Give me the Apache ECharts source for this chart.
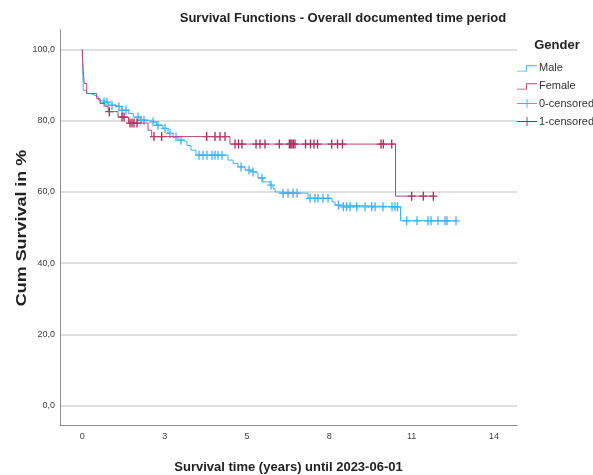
<!DOCTYPE html>
<html>
<head>
<meta charset="utf-8">
<script src="https://cdn.jsdelivr.net/npm/echarts@6/dist/echarts.min.js"></script>
<style>
  html, body { margin: 0; padding: 0; background: #ffffff; }
  #chart { width: 593px; height: 475px; }
</style>
</head>
<body>
<div id="chart"></div>
<script>
// Kaplan-Meier estimates (time in years, cumulative survival in %)
const maleEventTimes = [0.01, 0.02, 0.033, 0.146, 0.256, 0.422, 0.532, 0.698, 0.865, 1.087,
  1.310, 1.530, 1.696, 1.919, 2.251, 2.474, 2.684, 2.850, 3.016, 3.183, 3.349, 3.482, 3.615,
  3.781, 4.845, 5.012, 5.178, 5.411, 5.577, 5.743, 5.843, 6.010, 6.242, 6.342, 6.409, 6.475,
  7.506, 8.304, 8.404, 8.570, 10.582];
const maleEventSurv = [96, 92, 88.5, 87.6, 87.1, 86.7, 85.7, 85.2, 84.3, 83.9,
  82.9, 82.0, 81.0, 80.1, 79.6, 78.7, 77.8, 76.4, 75.4, 74.5, 74.0, 73.0, 71.7,
  70.3, 68.9, 68.0, 67.0, 66.1, 65.6, 65.3, 63.9, 62.8, 61.9, 61.0, 60.0, 59.6,
  58.2, 57.2, 56.3, 55.8, 51.9];
const maleCensorTimes = [0.722, 0.821, 0.988, 1.220, 1.320, 1.453, 1.852, 1.952, 2.052, 2.351,
  2.517, 2.750, 2.916, 3.116, 3.282, 3.881, 4.014, 4.147, 4.313, 4.413, 4.513, 4.646, 5.278,
  5.544, 5.677, 5.976, 6.276, 6.675, 6.841, 7.007, 7.140, 7.572, 7.738, 7.838, 8.004, 8.171,
  8.514, 8.680, 8.793, 8.903, 9.125, 9.402, 9.624, 9.734, 10.000, 10.299, 10.399, 10.482,
  10.788, 11.131, 11.496, 11.596, 11.829, 12.062, 12.128, 12.427];

const femaleEventTimes = [0.01, 0.03, 0.067, 0.146, 0.479, 0.589, 0.755, 0.865, 1.187, 1.536,
  2.185, 2.308, 4.912, 10.416];
const femaleEventSurv = [97, 94, 90.4, 87.6, 86.2, 84.8, 83.9, 82.5, 81.0, 79.3,
  77.3, 75.5, 73.4, 58.8];
const femaleCensorTimes = [0.898, 1.320, 1.387, 1.586, 1.653, 1.719, 1.819, 2.384, 2.640,
  4.137, 4.413, 4.580, 4.746, 5.079, 5.195, 5.311, 5.777, 5.910, 6.076, 6.551, 6.884, 6.930,
  6.973, 7.017, 7.073, 7.423, 7.589, 7.705, 7.822, 8.294, 8.487, 8.653, 9.933, 10.010, 10.290,
  10.954, 11.340, 11.673];

// Axis ticks: x ticks every 1000 days, labelled in whole years
const xTickDays = [0, 1000, 2000, 3000, 4000, 5000];
const xTickLabels = ['0', '3', '5', '8', '11', '14'];
const yTickValues = [0, 20, 40, 60, 80, 100];

const DAYS_PER_YEAR = 365.25;
const maleColor = '#3fb3f0';
const femaleLineColor = '#bf4470';
const femaleMarkColor = '#a3285a';
const FONT = '"Liberation Sans", Arial, sans-serif';

function survivalAt(times, surv, t) {
  let s = 100;
  for (let i = 0; i < times.length; i++) {
    if (times[i] <= t) s = surv[i]; else break;
  }
  return s;
}

function stepData(times, surv, censors) {
  const pts = [[0, 100]];
  times.forEach((t, i) => pts.push([t, surv[i]]));
  const last = Math.max(times[times.length - 1], censors[censors.length - 1]);
  pts.push([last, surv[surv.length - 1]]);
  return pts;
}

function censorData(times, surv, censors) {
  return censors.map(t => [t, survivalAt(times, surv, t)]);
}

const plusMark = 'path://M0,3.9 L8,3.9 L8,5.2 L0,5.2 Z M3.35,0 L4.65,0 L4.65,9 L3.35,9 Z';
const stepIcon = 'path://M0,0 L0.01,0 L0.01,0.01 Z M0,8 L10,8 L10,2 L22,2 L22,3 L11,3 L11,9 L0,9 Z';
const plusIcon = 'path://M0,4.5 L22,4.5 L22,5.5 L0,5.5 Z M10.5,0 L11.5,0 L11.5,10 L10.5,10 Z';

const chart = echarts.init(document.getElementById('chart'), null, { renderer: 'canvas' });

chart.setOption({
  animation: false,
  backgroundColor: '#ffffff',
  textStyle: { fontFamily: FONT },
  graphic: [
    {
      type: 'text', x: 343, y: 18,
      style: {
        text: 'Survival Functions - Overall documented time period',
        font: 'bold 13px ' + FONT, fill: '#222222',
        textAlign: 'center', textVerticalAlign: 'middle'
      }
    },
    {
      type: 'text', x: 557, y: 45,
      style: {
        text: 'Gender', font: 'bold 13px ' + FONT, fill: '#222222',
        textAlign: 'center', textVerticalAlign: 'middle'
      }
    },
    {
      // vertical axis title, drawn with a slightly elongated bold face
      type: 'text', x: 22, y: 228, rotation: Math.PI / 2, scaleX: 1.28,
      style: {
        text: 'Cum Survival in %', font: 'bold 14px ' + FONT, fill: '#222222',
        textAlign: 'center', textVerticalAlign: 'middle'
      }
    }
  ],
  legend: {
    orient: 'vertical',
    left: 517,
    top: 62,
    padding: 0,
    itemWidth: 20,
    itemHeight: 10,
    itemGap: 7,
    textStyle: { fontSize: 11, color: '#333333', fontFamily: FONT, padding: [0, 0, 0, -3] },
    data: [
      { name: 'Male', icon: stepIcon, itemStyle: { color: maleColor } },
      { name: 'Female', icon: stepIcon, itemStyle: { color: femaleLineColor } },
      { name: '0-censored', icon: plusIcon, itemStyle: { color: maleColor } },
      { name: '1-censored', icon: plusIcon, itemStyle: { color: femaleMarkColor } }
    ]
  },
  grid: { left: 60, right: 76, top: 30, bottom: 50, outerBoundsMode: 'none', containLabel: false },
  xAxis: {
    type: 'value',
    min: -0.742,
    max: 14.456,
    name: 'Survival time (years) until 2023-06-01',
    nameLocation: 'middle',
    nameGap: 36,
    nameTextStyle: { fontSize: 13, fontWeight: 'bold', color: '#222222', fontFamily: FONT },
    axisLine: { show: true, onZero: false, lineStyle: { color: '#8c8c8c', width: 1 } },
    axisTick: { show: false, customValues: xTickDays.map(d => d / DAYS_PER_YEAR) },
    splitLine: { show: false },
    axisLabel: {
      customValues: xTickDays.map(d => d / DAYS_PER_YEAR),
      formatter: v => xTickLabels[Math.round(v * DAYS_PER_YEAR / 1000)],
      fontSize: 9, color: '#404040', margin: 7, fontFamily: FONT
    }
  },
  yAxis: {
    type: 'value',
    min: -5.4,
    max: 105.4,
    axisLine: { show: true, onZero: false, lineStyle: { color: '#8c8c8c', width: 1 } },
    axisTick: { show: false, customValues: yTickValues },
    splitLine: { show: true, lineStyle: { color: '#d4d4d4', width: 1.5 } },
    axisLabel: {
      customValues: yTickValues,
      formatter: v => v.toFixed(1).replace('.', ','),
      fontSize: 9, color: '#404040', margin: 5, fontFamily: FONT
    }
  },
  series: [
    {
      name: 'Male', type: 'line', step: 'end', showSymbol: false, silent: true,
      data: stepData(maleEventTimes, maleEventSurv, maleCensorTimes),
      lineStyle: { color: maleColor, width: 1 }, itemStyle: { color: maleColor }
    },
    {
      name: 'Female', type: 'line', step: 'end', showSymbol: false, silent: true,
      data: stepData(femaleEventTimes, femaleEventSurv, femaleCensorTimes),
      lineStyle: { color: femaleLineColor, width: 1 }, itemStyle: { color: femaleLineColor }
    },
    {
      name: '0-censored', type: 'scatter', silent: true,
      symbol: plusMark, symbolSize: [8, 9],
      data: censorData(maleEventTimes, maleEventSurv, maleCensorTimes),
      itemStyle: { color: maleColor, opacity: 1 }
    },
    {
      name: '1-censored', type: 'scatter', silent: true,
      symbol: plusMark, symbolSize: [8, 9],
      data: censorData(femaleEventTimes, femaleEventSurv, femaleCensorTimes),
      itemStyle: { color: femaleMarkColor, opacity: 1 }
    }
  ]
});
</script>
</body>
</html>
